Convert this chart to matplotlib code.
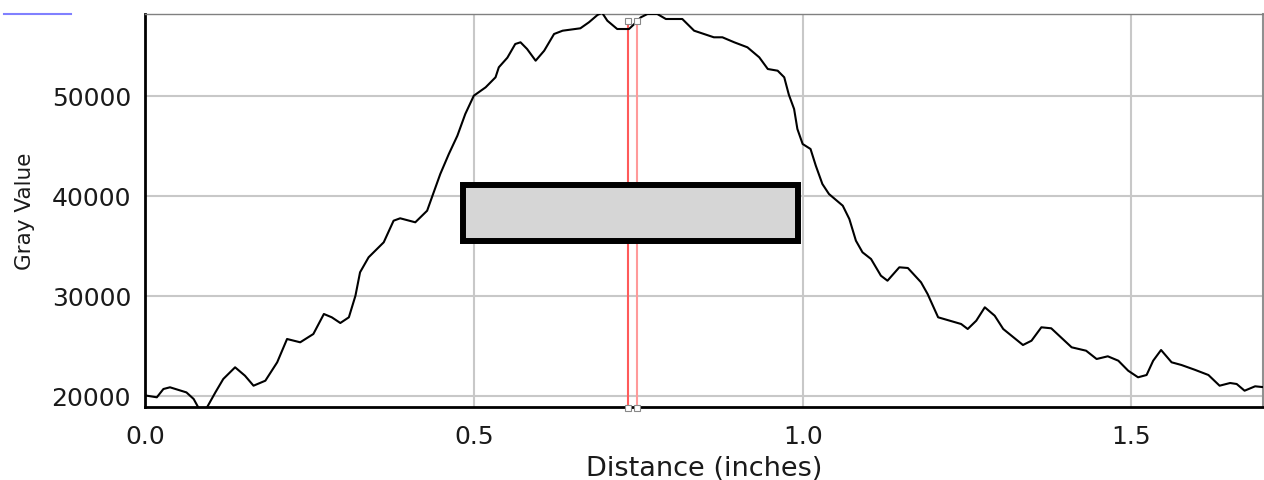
import numpy as np
import matplotlib.pyplot as plt
from matplotlib.patches import Rectangle
from matplotlib.lines import Line2D

# profile (distance in inches, gray value)
distance = [0.000, 0.018, 0.028, 0.038, 0.063, 0.074, 0.081, 0.088, 0.094, 0.107,
            0.119, 0.137, 0.152, 0.165, 0.183, 0.201, 0.216, 0.236, 0.256, 0.272,
            0.284, 0.297, 0.310, 0.320, 0.327, 0.340, 0.363, 0.378, 0.388, 0.411,
            0.429, 0.439, 0.449, 0.462, 0.475, 0.487, 0.500, 0.518, 0.533, 0.538,
            0.551, 0.563, 0.571, 0.581, 0.594, 0.607, 0.622, 0.635, 0.662, 0.675,
            0.688, 0.695, 0.703, 0.718, 0.736, 0.744, 0.754, 0.764, 0.779, 0.792,
            0.817, 0.835, 0.865, 0.878, 0.896, 0.916, 0.934, 0.947, 0.962, 0.972,
            0.979, 0.987, 0.992, 1.000, 1.012, 1.020, 1.030, 1.040, 1.061, 1.071,
            1.081, 1.091, 1.104, 1.119, 1.129, 1.147, 1.160, 1.180, 1.190, 1.206,
            1.241, 1.251, 1.264, 1.277, 1.292, 1.305, 1.335, 1.348, 1.363, 1.378,
            1.409, 1.431, 1.447, 1.464, 1.480, 1.495, 1.510, 1.523, 1.533, 1.545,
            1.561, 1.576, 1.596, 1.617, 1.634, 1.650, 1.660, 1.672, 1.688, 1.703]
gray_value = [20030, 19840, 20670, 20840, 20330, 19670, 18830, 18500, 18800, 20330,
              21670, 22840, 22000, 21000, 21500, 23340, 25670, 25340, 26170, 28170,
              27840, 27270, 27840, 30000, 32340, 33840, 35340, 37500, 37740, 37340,
              38500, 40340, 42170, 44170, 46000, 48170, 50000, 50840, 51840, 52840,
              53800, 55170, 55340, 54670, 53500, 54500, 56170, 56500, 56740, 57340,
              58070, 58300, 57500, 56670, 56670, 57170, 57840, 58170, 58170, 57670,
              57670, 56500, 55840, 55840, 55340, 54840, 53840, 52670, 52500, 51840,
              50100, 48670, 46670, 45170, 44670, 43000, 41170, 40170, 39000, 37670,
              35500, 34340, 33670, 32000, 31500, 32840, 32770, 31340, 30170, 27840,
              27170, 26670, 27500, 28840, 28000, 26670, 25070, 25500, 26840, 26740,
              24840, 24500, 23670, 23940, 23500, 22500, 21840, 22070, 23500, 24570,
              23340, 23070, 22600, 22070, 21000, 21270, 21170, 20500, 20940, 20840]

# selection lines and box
cursor_x = [0.734, 0.748]
cursor_top = 57470
box_x = [0.483, 0.993]
box_y = [35470, 41070]

xticks = [0.0, 0.5, 1.0, 1.5]
yticks = [20000, 30000, 40000, 50000]

fig = plt.figure(figsize=(12.64, 4.81), dpi=100)
ax = fig.add_axes([145/1264, 1 - 408/481, 1118/1264, 393/481])

ax.plot(distance, gray_value, color="black", lw=1.5, zorder=3)

cols = ["#ff5a5a", "#ff9a9a"]
for cx, c in zip(cursor_x, cols):
    ax.plot([cx, cx], [18870, cursor_top], color=c, lw=1.5, zorder=2)
    ax.plot([cx, cx], [cursor_top, 18800], ls="none", marker="s", ms=4,
            mfc="white", mec="#888888", mew=0.8, clip_on=False, zorder=6)

ax.add_patch(Rectangle((box_x[0], box_y[0]), box_x[1] - box_x[0], box_y[1] - box_y[0],
                       facecolor="#d6d6d6", edgecolor="black", lw=4.3, zorder=5))

ax.set_xlim(0, 1.7)
ax.set_ylim(18870, 58170)
ax.set_xticks(xticks)
ax.set_xticklabels(["%.1f" % t for t in xticks])
ax.set_yticks(yticks)
ax.set_yticklabels([str(t) for t in yticks])
ax.tick_params(axis="both", length=0, labelsize=18, colors="#1a1a1a")
ax.tick_params(axis="y", pad=10)
ax.tick_params(axis="x", pad=12)
ax.grid(True, color="#c8c8c8", lw=1.5, zorder=0)
ax.set_axisbelow(True)

ax.spines["left"].set_linewidth(2)
ax.spines["bottom"].set_linewidth(2)
ax.spines["top"].set_color("#808080")
ax.spines["top"].set_linewidth(1)
ax.spines["right"].set_color("#909090")
ax.spines["right"].set_linewidth(1.5)

ax.set_xlabel("Distance (inches)", fontsize=19.5, color="#1a1a1a", labelpad=5)
ax.set_ylabel("Gray Value", fontsize=15.5, color="#1a1a1a", labelpad=12)

fig.add_artist(Line2D([4/1264, 71/1264], [1 - 15/481, 1 - 15/481],
                      color="#8080ff", lw=1.5, transform=fig.transFigure))

plt.savefig("out.png", dpi=100)
